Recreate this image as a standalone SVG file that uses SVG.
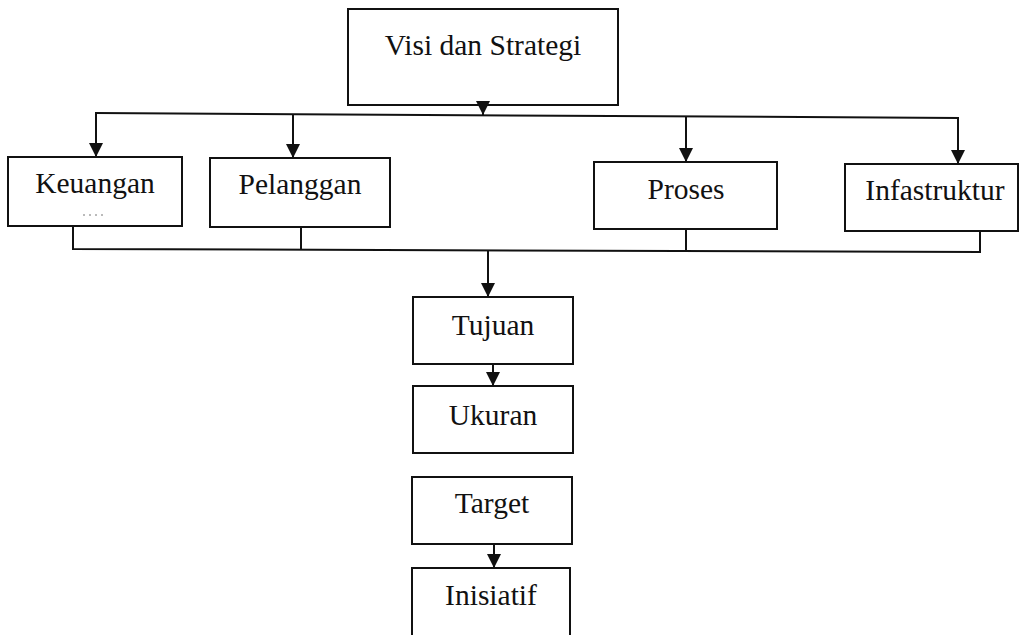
<svg xmlns="http://www.w3.org/2000/svg" width="1021" height="635" viewBox="0 0 1021 635">
  <style>
    .box { fill: #ffffff; stroke: #111111; stroke-width: 2; }
    .lbl { font-family: "Liberation Serif", "Times New Roman", serif; font-size: 29.5px; fill: #111111; text-anchor: middle; }
    .wire { fill: none; stroke: #111111; stroke-width: 2; }
    .arrow { fill: none; stroke: #111111; stroke-width: 2; marker-end: url(#head); }
  </style>
  <defs>
    <!-- filled triangular arrowhead, tip at the end of the line -->
    <marker id="head" markerUnits="userSpaceOnUse" markerWidth="14" markerHeight="14" viewBox="0 0 14 14" refX="14" refY="7" orient="auto">
      <path d="M0,0 L14,7 L0,14 Z" fill="#111111"/>
    </marker>
  </defs>
  <rect width="1021" height="635" fill="#ffffff"/>

  <g id="node-visi">
    <rect class="box" x="348" y="9" width="270" height="96"/>
    <text class="lbl" x="483" y="55">Visi dan Strategi</text>
  </g>
  <g id="node-keuangan">
    <rect class="box" x="8" y="157" width="174" height="69"/>
    <text class="lbl" x="95" y="193">Keuangan</text>
    <line x1="83" y1="215" x2="106" y2="215" stroke="#777777" stroke-width="1" stroke-dasharray="2 4"/>
  </g>
  <g id="node-pelanggan">
    <rect class="box" x="210" y="158" width="180" height="69"/>
    <text class="lbl" x="300" y="194">Pelanggan</text>
  </g>
  <g id="node-proses">
    <rect class="box" x="594" y="162" width="183" height="67"/>
    <text class="lbl" x="686" y="199">Proses</text>
  </g>
  <g id="node-infastruktur">
    <rect class="box" x="845" y="164" width="173" height="67"/>
    <text class="lbl" x="935" y="200">Infastruktur</text>
  </g>
  <g id="node-tujuan">
    <rect class="box" x="413" y="297" width="160" height="67"/>
    <text class="lbl" x="493" y="335">Tujuan</text>
  </g>
  <g id="node-ukuran">
    <rect class="box" x="413" y="386" width="160" height="67"/>
    <text class="lbl" x="493" y="425">Ukuran</text>
  </g>
  <g id="node-target">
    <rect class="box" x="412" y="477" width="160" height="67"/>
    <text class="lbl" x="492" y="513">Target</text>
  </g>
  <g id="node-inisiatif">
    <path class="box" d="M412,640 L412,568 L570,568 L570,640"/>
    <text class="lbl" x="491" y="605">Inisiatif</text>
  </g>

  <g id="connectors">
    <!-- fan-out from the vision box -->
    <line class="arrow" x1="483" y1="105" x2="483" y2="115"/>
    <line class="wire" x1="95" y1="113" x2="959" y2="118"/>
    <line class="arrow" x1="96" y1="113" x2="96" y2="157"/>
    <line class="arrow" x1="293" y1="114" x2="293" y2="158"/>
    <line class="arrow" x1="686" y1="116" x2="686" y2="162"/>
    <line class="arrow" x1="958" y1="118" x2="958" y2="164"/>
    <!-- fan-in to the objectives box -->
    <polyline class="wire" points="73,226 73,249 980,252 980,231"/>
    <line class="wire" x1="301" y1="227" x2="301" y2="250"/>
    <line class="wire" x1="686" y1="229" x2="686" y2="251"/>
    <line class="arrow" x1="488" y1="250" x2="488" y2="297"/>
    <!-- vertical chain -->
    <line class="arrow" x1="493" y1="364" x2="493" y2="386"/>
    <line class="arrow" x1="494" y1="544" x2="494" y2="568"/>
  </g>
</svg>
